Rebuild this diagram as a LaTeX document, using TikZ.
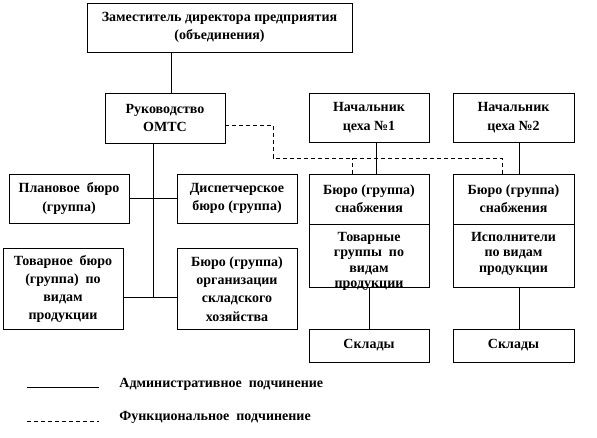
\documentclass[tikz,border=0pt]{standalone}
\usepackage{fontspec}
\setmainfont{Liberation Serif}
\usepackage{tikz}
\usetikzlibrary{calc}

\begin{document}
\begin{tikzpicture}[x=1pt,y=-1pt,line width=0.8pt,
    boite/.style={draw, align=center, inner sep=0pt,
        font=\bfseries\fontsize{14}{18.3}\selectfont},
    serre/.style={align=center, inner sep=0pt, anchor=north,
        font=\bfseries\fontsize{14}{15.3}\selectfont},
    tiret/.style={dashed, dash pattern=on 4pt off 3pt}]

        % Cadre de l'image
        \useasboundingbox (0,0) rectangle (597,438);

        % Les blocs de la direction
        \node[boite, minimum width=265, minimum height=49] (zam) at (219.5,27.5) {Заместитель директора предприятия\\(объединения)};
        \node[boite, minimum width=120, minimum height=50] (ruk) at (165,118) {Руководство\\ОМТС};
        \node[boite, minimum width=120, minimum height=49] (nach1) at (369,117.5) {Начальник\\цеха №1};
        \node[boite, minimum width=121, minimum height=49] (nach2) at (513.5,117.5) {Начальник\\цеха №2};

        % Les bureaux de l'OMTS
        \node[boite, minimum width=120, minimum height=49] (plan) at (69,198.5) {Плановое~ бюро\\(группа)};
        \node[boite, minimum width=120, minimum height=49] (disp) at (237,198.5) {Диспетчерское\\бюро (группа)};
        \node[boite, minimum width=120, minimum height=81] (tov) at (63,289) {Товарное~ бюро\\(группа)~ по\\видам\\продукции};
        \node[boite, minimum width=120, minimum height=81] (org) at (237,289) {Бюро (группа)\\организации\\складского\\хозяйства};

        % Les bureaux des ateliers
        \node[boite, minimum width=120, minimum height=50] (snab1) at (369,199) {Бюро (группа)\\снабжения};
        \node[boite, minimum width=120, minimum height=63] (grp1) at (369,255.5) {};
        \node[serre] (grp1t) at ([yshift=-8.5]grp1.north) {Товарные\\группы~ по\\видам\\продукции};
        \node[boite, minimum width=121, minimum height=50] (snab2) at (513.5,199) {Бюро (группа)\\снабжения};
        \node[boite, minimum width=121, minimum height=63] (isp2) at (513.5,255.5) {};
        \node[serre] (isp2t) at ([yshift=-8.5]isp2.north) {Исполнители\\по видам\\продукции};
        \node[boite, minimum width=120, minimum height=33] (sklad1) at (369,345.5) {Склады};
        \node[boite, minimum width=121, minimum height=33] (sklad2) at (513.5,345.5) {Склады};

        % Subordination administrative
        \draw ([xshift=6]ruk.north) -- ([xshift=6]ruk.north |- zam.south);
        \draw ([xshift=-12]ruk.south) -- ([xshift=-12]ruk.south |- 0,297);
        \draw (plan.east) -- (disp.west);
        \draw ([yshift=-8]tov.east) -- ([yshift=-8]org.west);
        \draw ([xshift=7]nach1.south) -- ([xshift=7]snab1.north);
        \draw ([xshift=5.5]nach2.south) -- ([xshift=5.5]snab2.north);
        \draw (grp1.south) -- (sklad1.north);
        \draw ([xshift=5.5]isp2.south) -- ([xshift=5.5]sklad2.north);

        % Subordination fonctionnelle
        \coordinate (fourche) at (273,158);
        \draw[tiret] ([yshift=-7]ruk.east) -| (fourche) -| ([xshift=-11.5]snab2.north);
        \draw[tiret] ([xshift=-17]snab1.north) -- ([xshift=-17]snab1.north |- fourche);

        % Légende
        \coordinate (L1) at (27,387);
        \coordinate (L2) at (99,387);
        \coordinate (L3) at (27,421);
        \coordinate (L4) at (99,421);
        \draw (L1) -- (L2);
        \draw[tiret, line width=0.6pt] (L3) -- (L4);
        \node[font=\bfseries\fontsize{14}{18}\selectfont, anchor=west, inner sep=0pt] (adm) at (119,384) {Административное~ подчинение};
        \node[font=\bfseries\fontsize{14}{18}\selectfont, anchor=west, inner sep=0pt] (fonc) at (119,417) {Функциональное~ подчинение};
    \end{tikzpicture}
\end{document}
